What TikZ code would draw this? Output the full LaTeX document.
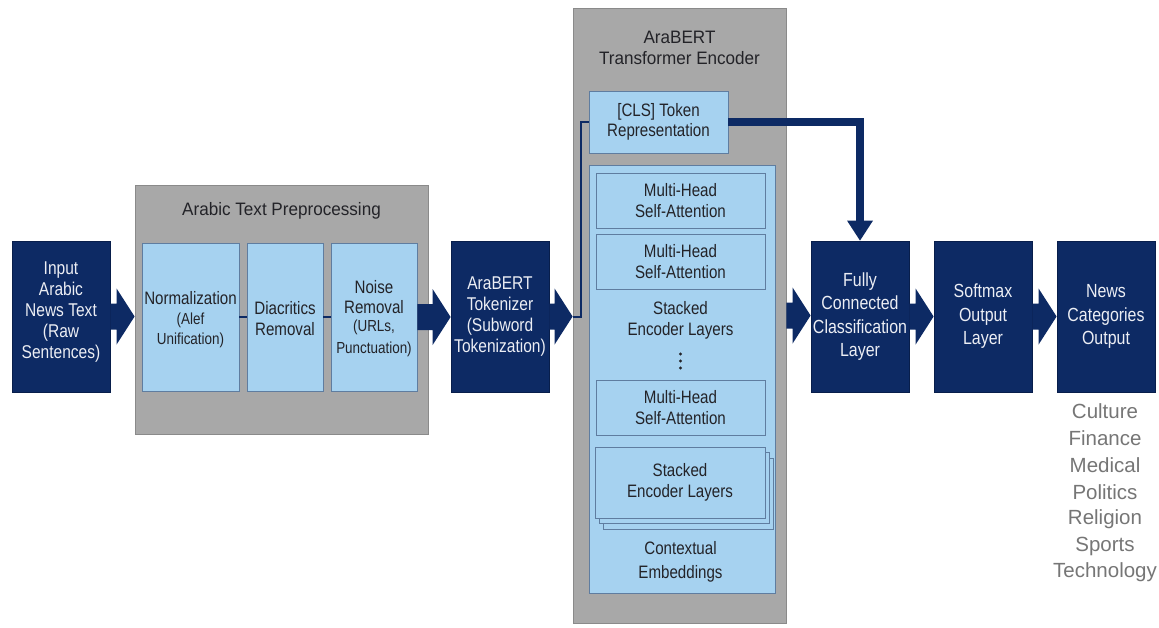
\documentclass[tikz,border=0pt]{standalone}
\usepackage{fontspec}
\setmainfont{Liberation Sans}[FakeStretch=0.84]
\newfontfamily\catfont{Liberation Sans}
\newfontfamily\titlefont{Liberation Sans}[FakeStretch=0.95]
\usetikzlibrary{calc}
\definecolor{navy}{RGB}{13,42,100}
\definecolor{navyedge}{RGB}{8,30,75}
\definecolor{lblue}{RGB}{166,210,240}
\definecolor{lbord}{RGB}{95,125,160}
\definecolor{gbox}{RGB}{168,168,168}
\definecolor{gbord}{RGB}{138,138,138}
\definecolor{txtdark}{RGB}{35,35,40}
\definecolor{offwhite}{RGB}{236,238,244}
\definecolor{catgray}{RGB}{118,118,118}
\newcommand\blockarrow[2]{%
  \fill[navy] ($(#1)+(0,-13)$) -- ($(#1 -| #2)+(-18,-13)$) -- ($(#1 -| #2)+(-18,-28)$)
    -- (#1 -| #2) -- ($(#1 -| #2)+(-18,28)$) -- ($(#1 -| #2)+(-18,13)$) -- ($(#1)+(0,13)$) -- cycle;}
\begin{document}
\begin{tikzpicture}[x=1pt,y=-1pt,
  darkbox/.style={fill=navy, draw=navyedge, line width=0.8pt, text=offwhite, align=center, inner sep=0pt,
    minimum width=98pt, minimum height=151pt, font=\fontsize{18.5}{21}\selectfont},
  graybox/.style={fill=gbox, draw=gbord, line width=0.8pt, inner sep=0pt},
  lightbox/.style={fill=lblue, draw=lbord, line width=0.8pt, text=txtdark, align=center, inner sep=0pt,
    font=\fontsize{18}{20.5}\selectfont},
  title/.style={text=txtdark, align=center, inner sep=0pt, font=\titlefont\fontsize{18}{20.5}\selectfont},
  smalltxt/.style={text=txtdark, align=center, inner sep=0pt},
  wtxt/.style={text=offwhite, align=center, inner sep=0pt, font=\fontsize{18.5}{21}\selectfont},
  cat/.style={text=catgray, inner sep=0pt, font=\catfont\fontsize{20.5}{21}\selectfont},
  link/.style={draw=navy, line width=2pt}
]
\fill[white] (0,0) rectangle (1159,627);
\useasboundingbox (0,0) rectangle (1159,627);

% group boxes
\node[graybox, minimum width=293pt, minimum height=249pt] (pre) at (281.5,309.5) {};
\node[title] (pretitle) at (281.5,211) {Arabic Text Preprocessing};
\node[graybox, minimum width=213pt, minimum height=615pt] (enc) at (679.5,315.5) {};
\node[title] (enctitle) at (679.5,48) {AraBERT\\Transformer Encoder};

% main dark boxes
\node[darkbox] (in) at (61,316.5) {};
\node[wtxt] (intxt) at (61,312) {Input\\Arabic\\News Text\\(Raw\\Sentences)};
\node[darkbox] (tok) at (500,316.5) {AraBERT\\Tokenizer\\(Subword\\Tokenization)};
\node[darkbox, font=\fontsize{19}{23.5}\selectfont] (fc) at (860,316.5) {Fully\\Connected\\Classification\\Layer};
\node[darkbox, font=\fontsize{19}{23.5}\selectfont] (soft) at (983,316.5) {Softmax\\Output\\Layer};
\node[darkbox, font=\fontsize{19}{23.5}\selectfont] (news) at (1106,316.5) {News\\Categories\\Output};

% preprocessing steps
\node[lightbox, minimum width=97pt, minimum height=148pt] (norm) at (190.5,317) {};
\node[smalltxt, font=\fontsize{18}{21}\selectfont] (normt) at (190.5,298) {Normalization};
\node[smalltxt, font=\fontsize{16}{20}\selectfont] (norms) at (190.5,330) {(Alef\\Unification)};
\node[lightbox, minimum width=76pt, minimum height=148pt] (diac) at (285,317) {};
\node[smalltxt, font=\fontsize{18}{21}\selectfont] (diact) at (285,318.5) {Diacritics\\Removal};
\node[lightbox, minimum width=86pt, minimum height=148pt] (noise) at (374,317) {};
\node[smalltxt, font=\fontsize{18}{20.5}\selectfont] (noiset) at (374,297) {Noise\\Removal};
\node[smalltxt, font=\fontsize{16}{22}\selectfont] (noises) at (374,338) {(URLs,\\Punctuation)};
\draw[link] (norm.east) -- (diac.west);
\draw[link] (diac.east) -- (noise.west);

% encoder internals
\node[lightbox, minimum width=139pt, minimum height=62pt] (cls) at (658.5,122) {[CLS] Token\\Representation};
\node[lightbox, minimum width=186pt, minimum height=428pt] (stack) at (682,379) {};
\node[lightbox, minimum width=169pt, minimum height=55pt] (mh1) at (680.5,200.5) {Multi-Head\\Self-Attention};
\node[lightbox, minimum width=169pt, minimum height=55pt] (mh2) at (680.5,261.5) {Multi-Head\\Self-Attention};
\node[smalltxt, font=\fontsize{18}{21}\selectfont] (sel1) at (680.5,320) {Stacked\\Encoder Layers};
\fill[txtdark] (680.5,354) circle (1.7) (680.5,361) circle (1.7) (680.5,368) circle (1.7);
\node[lightbox, minimum width=169pt, minimum height=55pt] (mh3) at (680.5,407.5) {Multi-Head\\Self-Attention};
\node[lightbox, minimum width=170pt, minimum height=71pt] (selb3) at (688,494) {};
\node[lightbox, minimum width=170pt, minimum height=71pt] (selb2) at (684,488) {};
\node[lightbox, minimum width=170pt, minimum height=71pt] (sel2) at (680,482.5) {Stacked\\Encoder Layers};
\node[smalltxt, font=\fontsize{18}{24}\selectfont] (ctx) at (680.5,562) {Contextual\\Embeddings};

% block arrows
\blockarrow{in.east}{pre.west}
\blockarrow{noise.east}{tok.west}
\blockarrow{tok.east}{enc.west}
\blockarrow{enc.east}{fc.west}
\blockarrow{fc.east}{soft.west}
\blockarrow{soft.east}{news.west}

% thin link tokenizer -> CLS
\draw[link] (tok.east -| enc.west) -| ([xshift=-8pt]cls.west) -- (cls.west);

% CLS -> FC thick arrow
\coordinate (fctop) at ($(fc.north)+(0,-20)$);
\draw[navy, line width=8pt] (cls.east) -| (fctop);
\fill[navy] ($(fctop)+(-13,0)$) -- (fc.north) -- ($(fctop)+(13,0)$) -- cycle;

% categories
\node[cat] (c1) at (1105,411) {Culture};
\node[cat] (c2) at (1105,438) {Finance};
\node[cat] (c3) at (1105,465) {Medical};
\node[cat] (c4) at (1105,492) {Politics};
\node[cat] (c5) at (1105,519) {Religion};
\node[cat] (c6) at (1105,546) {Sports};
\node[cat] (c7) at (1105,572) {Technology};
\end{tikzpicture}
\end{document}
